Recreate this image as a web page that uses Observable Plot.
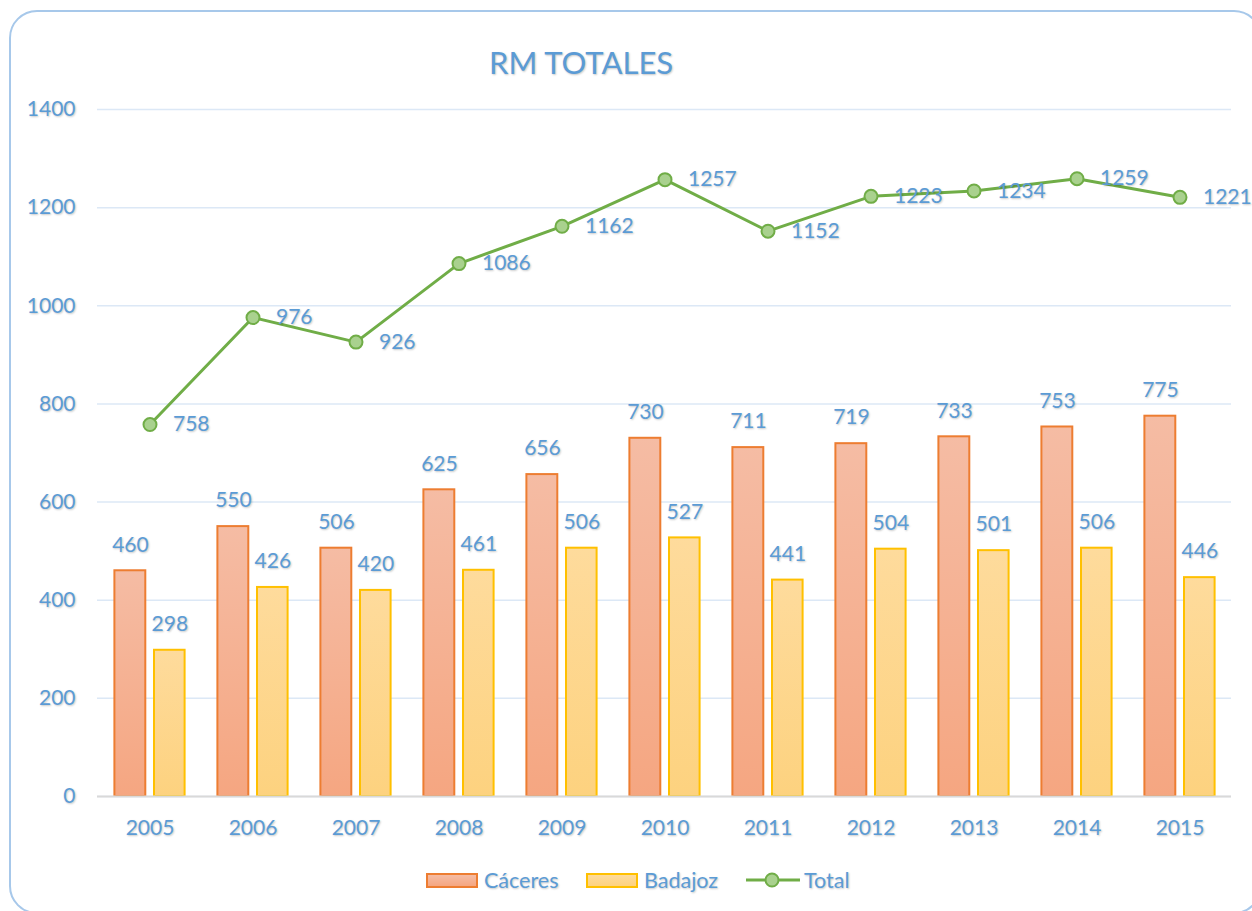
<!DOCTYPE html>
<html>
<head>
<meta charset="utf-8">
<script src="https://cdn.jsdelivr.net/npm/d3@7"></script>
<script src="https://cdn.jsdelivr.net/npm/@observablehq/plot@0.6"></script>
<style>
  html, body { margin: 0; padding: 0; background: #fff; }
  #wrap { position: relative; width: 1252px; height: 911px; overflow: hidden; font-family: Lato, "Open Sans", sans-serif; color: #5B9BD5; }
  #frame { position: absolute; left: 9px; top: 10px; width: 1253px; height: 904px; border: 2px solid #A7C8EA; border-radius: 28px; box-sizing: border-box; }
  #title { position: relative; height: 95px; }
  #title span { position: absolute; left: 489px; top: 47px; font-size: 31px; line-height: 31px; color: #5B9BD5; text-shadow: 1px 1px 2px rgba(0,0,0,0.22); white-space: nowrap; }
  #chart { position: relative; height: 755px; }
  #chart svg text { text-shadow: 1px 1px 2px rgba(0,0,0,0.22); }
  #legend { position: relative; height: 61px; }
  #legend .item { position: absolute; top: 30px; transform: translateY(-50%); display: flex; align-items: center; font-size: 21.5px; color: #5B9BD5; text-shadow: 1px 1px 2px rgba(0,0,0,0.22); white-space: nowrap; }
  .sw { width: 52px; height: 15px; box-sizing: border-box; margin-right: 6px; }
</style>
</head>
<body>
<div id="wrap">
  <div id="frame"></div>
  <div id="title"><span>RM TOTALES</span></div>
  <div id="chart"></div>
  <div id="legend"></div>
</div>
<script>
const years = ["2005", "2006", "2007", "2008", "2009", "2010", "2011", "2012", "2013", "2014", "2015"];
const caceres = [460, 550, 506, 625, 656, 730, 711, 719, 733, 753, 775];
const badajoz = [298, 426, 420, 461, 506, 527, 441, 504, 501, 506, 446];
const total = [758, 976, 926, 1086, 1162, 1257, 1152, 1223, 1234, 1259, 1221];
const yTicks = [0, 200, 400, 600, 800, 1000, 1200, 1400];
const seriesNames = ["Cáceres", "Badajoz", "Total"];

const rows = years.map((y, i) => ({ year: y, c: caceres[i], b: badajoz[i], t: total[i] }));

const blue = "#5B9BD5";
const fs = 21;

const defs = () => {
  const d = d3.create("svg:defs");
  const g1 = d.append("linearGradient").attr("id", "gc").attr("x1", 0).attr("y1", 0).attr("x2", 0).attr("y2", 1);
  g1.append("stop").attr("offset", "0%").attr("stop-color", "#F5BCA4");
  g1.append("stop").attr("offset", "100%").attr("stop-color", "#F5A681");
  const g2 = d.append("linearGradient").attr("id", "gb").attr("x1", 0).attr("y1", 0).attr("x2", 0).attr("y2", 1);
  g2.append("stop").attr("offset", "0%").attr("stop-color", "#FEDB9C");
  g2.append("stop").attr("offset", "100%").attr("stop-color", "#FDD27F");
  return d.node();
};

const chart = Plot.plot({
  width: 1252,
  height: 755,
  marginTop: 14,
  marginBottom: 54,
  marginLeft: 97,
  marginRight: 21,
  x: { domain: years, padding: 0, label: null },
  y: { domain: [0, 1400], label: null },
  style: { fontFamily: "Lato, 'Open Sans', sans-serif", fontSize: fs + "px", color: blue, background: "transparent", overflow: "visible" },
  marks: [
    defs,
    Plot.gridY(yTicks, { stroke: "#DCE8F6", strokeOpacity: 1, strokeWidth: 1.5 }),
    Plot.axisY(yTicks, { tickSize: 0, tickPadding: 22, fill: blue, fontSize: fs, label: null, tickFormat: d => String(d) }),
    Plot.axisX(years, { tickSize: 0, tickPadding: 24, fill: blue, fontSize: fs, label: null }),
    Plot.barY(rows, { x: "year", y: "c", fill: "url(#gc)", stroke: "#ED7D31", strokeWidth: 2, insetLeft: 16.4, insetRight: 55.7 }),
    Plot.barY(rows, { x: "year", y: "b", fill: "url(#gb)", stroke: "#FFC000", strokeWidth: 2, insetLeft: 56, insetRight: 16.4 }),
    Plot.ruleY([0], { stroke: "#D9D9D9", strokeWidth: 2 }),
    Plot.text(rows, { x: "year", y: "c", text: d => String(d.c), dx: -19.6, dy: -26, fill: blue, fontSize: fs }),
    Plot.text(rows, { x: "year", y: "b", text: d => String(d.b), dx: 19.8, dy: -26, fill: blue, fontSize: fs }),
    Plot.line(rows, { x: "year", y: "t", stroke: "#70AD47", strokeWidth: 3 }),
    Plot.dot(rows, { x: "year", y: "t", r: 6.5, fill: "#A9D18E", stroke: "#70AD47", strokeWidth: 2 }),
    Plot.text(rows, { x: "year", y: "t", text: d => String(d.t), dx: 23, textAnchor: "start", fill: blue, fontSize: fs })
  ]
});
document.getElementById("chart").appendChild(chart);

// Legend
const legend = document.getElementById("legend");
const items = [
  { name: seriesNames[0], left: 426, kind: "bar", fill: "linear-gradient(#F5BCA4, #F5A681)", stroke: "#ED7D31" },
  { name: seriesNames[1], left: 586, kind: "bar", fill: "linear-gradient(#FEDB9C, #FDD27F)", stroke: "#FFC000" },
  { name: seriesNames[2], left: 746, kind: "line" }
];
for (const it of items) {
  const el = document.createElement("div");
  el.className = "item";
  el.style.left = it.left + "px";
  if (it.kind === "bar") {
    const sw = document.createElement("div");
    sw.className = "sw";
    sw.style.background = it.fill;
    sw.style.border = "2px solid " + it.stroke;
    el.appendChild(sw);
  } else {
    const ns = "http://www.w3.org/2000/svg";
    const s = document.createElementNS(ns, "svg");
    s.setAttribute("width", 54); s.setAttribute("height", 16);
    s.style.marginRight = "4px";
    const l = document.createElementNS(ns, "line");
    l.setAttribute("x1", 0); l.setAttribute("x2", 54); l.setAttribute("y1", 8); l.setAttribute("y2", 8);
    l.setAttribute("stroke", "#70AD47"); l.setAttribute("stroke-width", 3);
    const c = document.createElementNS(ns, "circle");
    c.setAttribute("cx", 26); c.setAttribute("cy", 8); c.setAttribute("r", 6.5);
    c.setAttribute("fill", "#A9D18E"); c.setAttribute("stroke", "#70AD47"); c.setAttribute("stroke-width", 2);
    s.appendChild(l); s.appendChild(c);
    el.appendChild(s);
  }
  const t = document.createElement("span");
  t.textContent = it.name;
  el.appendChild(t);
  legend.appendChild(el);
}
</script>
</body>
</html>
